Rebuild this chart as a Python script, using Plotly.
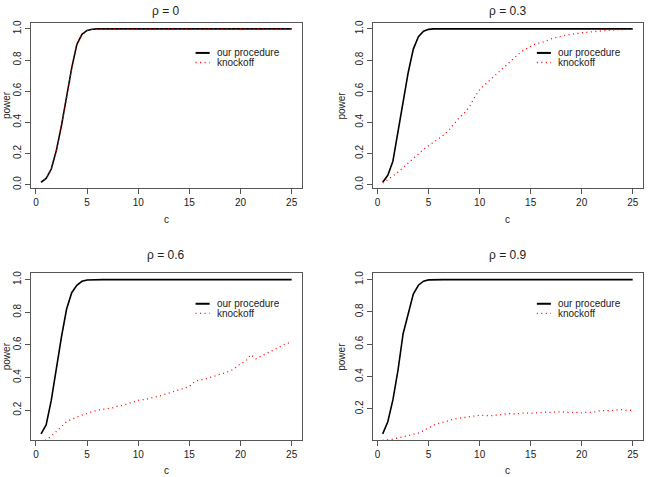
import plotly.graph_objects as go

c_values = [0.5, 1.0, 1.5, 2.0, 2.5, 3.0, 3.5, 4.0, 4.5, 5.0,
            5.5, 6.0, 6.5, 7.0, 7.5, 8.0, 8.5, 9.0, 9.5, 10.0,
            10.5, 11.0, 11.5, 12.0, 12.5, 13.0, 13.5, 14.0, 14.5, 15.0,
            15.5, 16.0, 16.5, 17.0, 17.5, 18.0, 18.5, 19.0, 19.5, 20.0,
            20.5, 21.0, 21.5, 22.0, 22.5, 23.0, 23.5, 24.0, 24.5, 25.0]

panel_titles = ["ρ = 0", "ρ = 0.3", "ρ = 0.6", "ρ = 0.9"]
series_names = ["our procedure", "knockoff"]

ones_38 = [1.0] * 38
ones_40 = [1.0] * 40

ours_rho0 = [0.015, 0.04, 0.10, 0.22, 0.38, 0.56, 0.75, 0.90, 0.965, 0.99, 0.998, 1.0] + ones_38
knock_rho0 = [0.014, 0.038, 0.098, 0.215, 0.375, 0.555, 0.745, 0.895, 0.962, 0.988, 0.997, 0.999] + ones_38

ours_rho3 = [0.015, 0.06, 0.15, 0.34, 0.53, 0.72, 0.87, 0.95, 0.985, 0.997] + ones_40
knock_rho3 = [0.01, 0.03, 0.055, 0.08, 0.11, 0.14, 0.17, 0.20, 0.225, 0.25,
              0.27, 0.295, 0.32, 0.35, 0.39, 0.43, 0.46, 0.50, 0.56, 0.61,
              0.64, 0.67, 0.70, 0.73, 0.765, 0.79, 0.82, 0.85, 0.87, 0.885,
              0.905, 0.91, 0.925, 0.935, 0.945, 0.955, 0.96, 0.965, 0.972, 0.975,
              0.978, 0.982, 0.985, 0.988, 0.99, 0.993, 0.995, 0.996, 0.997, 0.998]

ours_rho6 = [0.055, 0.11, 0.26, 0.47, 0.65, 0.82, 0.92, 0.965, 0.99, 0.998] + ones_40
knock_rho6 = [0.005, 0.017, 0.04, 0.07, 0.10, 0.13, 0.145, 0.16, 0.17, 0.18,
              0.19, 0.20, 0.205, 0.21, 0.215, 0.225, 0.23, 0.24, 0.25, 0.26,
              0.265, 0.27, 0.28, 0.285, 0.295, 0.305, 0.315, 0.325, 0.335, 0.345,
              0.375, 0.385, 0.39, 0.40, 0.41, 0.42, 0.43, 0.44, 0.46, 0.485,
              0.50, 0.54, 0.515, 0.53, 0.545, 0.56, 0.575, 0.59, 0.61, 0.615]

ours_rho9 = [0.045, 0.12, 0.255, 0.44, 0.665, 0.79, 0.91, 0.965, 0.99, 0.998] + ones_40
knock_rho9 = [0.005, 0.008, 0.012, 0.02, 0.027, 0.035, 0.043, 0.05, 0.065, 0.085,
              0.10, 0.11, 0.12, 0.13, 0.137, 0.142, 0.147, 0.15, 0.155, 0.16,
              0.16, 0.157, 0.16, 0.165, 0.168, 0.17, 0.168, 0.172, 0.175, 0.172,
              0.175, 0.178, 0.18, 0.178, 0.18, 0.182, 0.178, 0.18, 0.178, 0.175,
              0.18, 0.178, 0.185, 0.19, 0.188, 0.19, 0.192, 0.196, 0.19, 0.192]

ours_all = [ours_rho0, ours_rho3, ours_rho6, ours_rho9]
knock_all = [knock_rho0, knock_rho3, knock_rho6, knock_rho9]

x_ticks = [0, 5, 10, 15, 20, 25]
y_ticks = [0.0, 0.2, 0.4, 0.6, 0.8, 1.0]

W, H = 648, 477
# frames in pixels: (left, right, top, bottom)
frames = [(31, 301.7, 20, 187.3), (372.7, 642.7, 20, 187.3),
          (31, 301.7, 273.3, 441.7), (372.7, 642.7, 273.3, 441.7)]
y_ranges = [[-0.024, 1.039], [-0.024, 1.039], [0.017, 1.038], [0.0068, 1.038]]
x_range = [-0.48, 25.98]

FONT = "Liberation Sans, Arial, sans-serif"
TXT = "#222222"
FRAME = "#555555"
DOT = "1px,3.5px"

fig = go.Figure()
layout = dict(width=W, height=H, margin=dict(l=0, r=0, t=0, b=0),
              paper_bgcolor="white", plot_bgcolor="white", showlegend=False,
              font=dict(family=FONT, size=10, color=TXT))
annotations = []
shapes = []

for i in range(4):
    l, r, t, b = frames[i]
    xa = "xaxis" if i == 0 else f"xaxis{i+1}"
    ya = "yaxis" if i == 0 else f"yaxis{i+1}"
    xr = "x" if i == 0 else f"x{i+1}"
    yr = "y" if i == 0 else f"y{i+1}"
    common = dict(showgrid=False, zeroline=False, showline=True, linecolor=FRAME,
                  linewidth=1, mirror=True, ticks="outside", ticklen=5,
                  tickcolor=FRAME, tickwidth=1,
                  tickfont=dict(family=FONT, size=10, color=TXT))
    layout[xa] = dict(domain=[l / W, r / W], range=x_range, tickvals=x_ticks,
                      anchor=yr, **common)
    layout[ya] = dict(domain=[1 - b / H, 1 - t / H], range=y_ranges[i],
                      tickvals=y_ticks, tickformat=".1f", tickangle=-90,
                      anchor=xr, **common)

    fig.add_trace(go.Scatter(x=c_values, y=ours_all[i], mode="lines",
                             name=series_names[0], xaxis=xr, yaxis=yr,
                             line=dict(color="black", width=1.6)))
    fig.add_trace(go.Scatter(x=c_values, y=knock_all[i], mode="lines",
                             name=series_names[1], xaxis=xr, yaxis=yr,
                             line=dict(color="#ff0000", width=1.3, dash=DOT)))

    # title (kept fully inside the page)
    title_y = max(t - 18.6, 8.0)
    annotations.append(dict(text=panel_titles[i], xref="paper", yref="paper",
                            x=((l + r) / 2) / W, y=1 - title_y / H,
                            xanchor="center", yanchor="middle", showarrow=False,
                            font=dict(family=FONT, size=12, color=TXT)))
    # x label
    annotations.append(dict(text="c", xref="paper", yref="paper",
                            x=((l + r) / 2) / W, y=1 - (b + 31) / H,
                            xanchor="center", yanchor="middle", showarrow=False,
                            font=dict(family=FONT, size=10, color=TXT)))
    # y label (kept fully inside the page)
    ylab_x = max(l - 30.7, 6.5)
    annotations.append(dict(text="power", xref="paper", yref="paper",
                            x=ylab_x / W, y=1 - ((t + b) / 2) / H,
                            xanchor="center", yanchor="middle", showarrow=False,
                            textangle=-90,
                            font=dict(family=FONT, size=10, color=TXT)))
    # legend
    dx = f"{xr} domain"
    dy = f"{yr} domain"
    shapes.append(dict(type="line", xref=dx, yref=dy, x0=0.608, x1=0.660,
                       y0=0.818, y1=0.818, line=dict(color="black", width=2)))
    shapes.append(dict(type="line", xref=dx, yref=dy, x0=0.608, x1=0.660,
                       y0=0.760, y1=0.760,
                       line=dict(color="#ff0000", width=1.3, dash=DOT)))
    annotations.append(dict(text=series_names[0], xref=dx, yref=dy, x=0.679,
                            y=0.818, xanchor="left", yanchor="middle",
                            showarrow=False,
                            font=dict(family=FONT, size=10, color=TXT)))
    annotations.append(dict(text=series_names[1], xref=dx, yref=dy, x=0.679,
                            y=0.760, xanchor="left", yanchor="middle",
                            showarrow=False,
                            font=dict(family=FONT, size=10, color=TXT)))

layout["annotations"] = annotations
layout["shapes"] = shapes
fig.update_layout(**layout)
fig.write_html("out.html")
